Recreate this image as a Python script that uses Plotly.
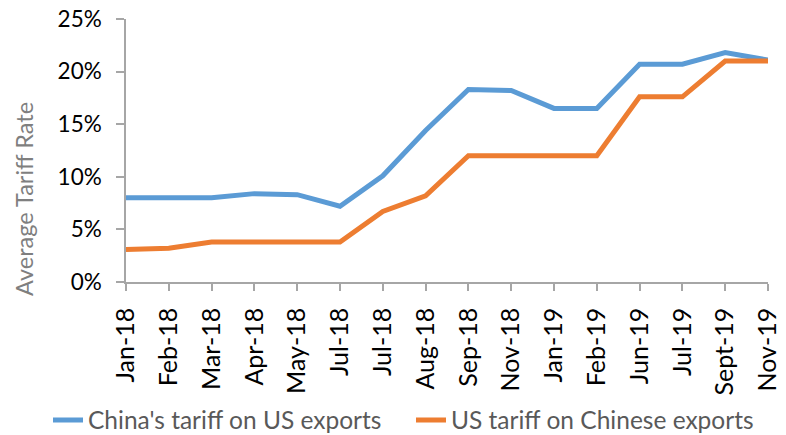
import plotly.graph_objects as go

months = ["Jan-18", "Feb-18", "Mar-18", "Apr-18", "May-18", "Jul-18", "Jul-18", "Aug-18",
          "Sep-18", "Nov-18", "Jan-19", "Feb-19", "Jun-19", "Jul-19", "Sept-19", "Nov-19"]
china_tariff = [8.0, 8.0, 8.0, 8.4, 8.3, 7.2, 10.1, 14.4, 18.3, 18.2, 16.5, 16.5, 20.7, 20.7, 21.8, 21.1]
us_tariff = [3.1, 3.2, 3.8, 3.8, 3.8, 3.8, 6.7, 8.2, 12.0, 12.0, 12.0, 12.0, 17.6, 17.6, 21.0, 21.0]
y_ticks = [0, 5, 10, 15, 20, 25]
y_tick_labels = ["0%", "5%", "10%", "15%", "20%", "25%"]
y_title = "Average Tariff Rate"

x = list(range(len(months)))
FONT = "Lato, 'Open Sans', sans-serif"

PLOT_L, PLOT_W, PLOT_B, PLOT_H = 126, 642, 282, 263

fig = go.Figure()
fig.add_trace(go.Scatter(x=x, y=china_tariff, mode="lines", name="China's tariff on US exports",
                         line=dict(color="#5B9BD5", width=5)))
fig.add_trace(go.Scatter(x=x, y=us_tariff, mode="lines", name="US tariff on Chinese exports",
                         line=dict(color="#ED7D31", width=5)))

fig.update_layout(
    width=786, height=435,
    margin=dict(l=126, r=18, t=19, b=153, autoexpand=False),
    plot_bgcolor="white", paper_bgcolor="white",
    font=dict(family=FONT, color="#000000"),
    showlegend=True,
    legend=dict(orientation="h", x=(48 - PLOT_L) / PLOT_W, xanchor="left",
                y=(PLOT_B - 420) / PLOT_H, yanchor="middle",
                font=dict(size=24.5, color="#595959", family=FONT), traceorder="normal",
                entrywidth=318, entrywidthmode="pixels",
                bgcolor="rgba(0,0,0,0)", tracegroupgap=0),
    annotations=[dict(text=y_title, textangle=-90, xref="paper", yref="paper",
                      x=(24 - PLOT_L) / PLOT_W, y=(PLOT_B - 199) / PLOT_H,
                      xanchor="center", yanchor="middle",
                      showarrow=False, font=dict(size=23.5, color="#7F7F7F", family=FONT))],
)
fig.update_xaxes(
    tickmode="array", tickvals=x, ticktext=months, tickangle=-90,
    range=[0, 15], showgrid=False, zeroline=False, automargin=False,
    showline=True, linecolor="#A6A6A6", linewidth=1.5,
    ticks="outside", ticklen=7, tickcolor="#A6A6A6", tickwidth=1.5,
    tickfont=dict(size=25, color="#000000", family=FONT),
    ticklabelstandoff=7, ticklabeloverflow="allow",
)
fig.update_yaxes(
    range=[0, 25], tickvals=y_ticks, ticktext=y_tick_labels,
    showgrid=False, zeroline=False, automargin=False,
    showline=True, linecolor="#A6A6A6", linewidth=1.5,
    ticks="outside", ticklen=8, tickcolor="#A6A6A6", tickwidth=1.5,
    tickfont=dict(size=22.5, color="#000000", family=FONT),
    ticklabelstandoff=10, ticklabeloverflow="allow",
)

fig.write_html("out.html", config={"displayModeBar": False},
               post_script="document.body.style.margin='0';")
